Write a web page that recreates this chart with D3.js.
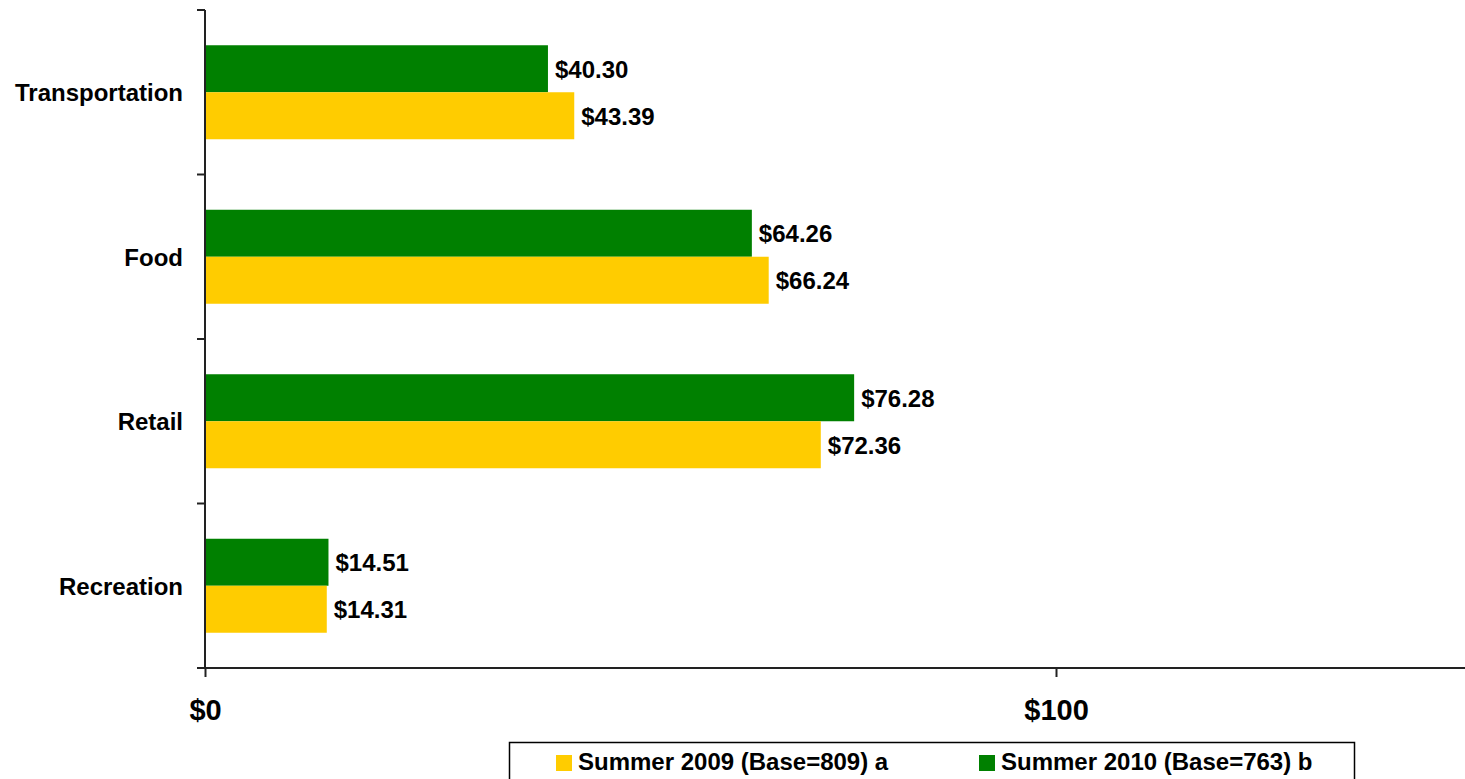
<!DOCTYPE html>
<html>
<head>
<meta charset="utf-8">
<script src="https://cdn.jsdelivr.net/npm/d3@7"></script>
<style>
  body { margin: 0; background: #fff; }
  text { font-family: Arial, "Liberation Sans", sans-serif; font-weight: bold; fill: #000; }
</style>
</head>
<body>
<svg width="1465" height="779"></svg>
<script>
const categories = ["Transportation", "Food", "Retail", "Recreation"];
const seriesNames = ["Summer 2010 (Base=763) b", "Summer 2009 (Base=809) a"];
const values2010 = [40.30, 64.26, 76.28, 14.51];
const values2009 = [43.39, 66.24, 72.36, 14.31];
const xTicks = [0, 100];
const colors = ["#008000", "#ffcc00"];

const svg = d3.select("svg");
const width = +svg.attr("width");
const height = +svg.attr("height");

const plotLeft = 205, plotTop = 10, plotBottom = 668;

const x = d3.scaleLinear().domain([0, 150]).range([plotLeft, plotLeft + 851 * 1.5]);
const y = d3.scaleBand().domain(categories).range([plotTop, plotBottom]).padding(0);
const ySub = d3.scaleBand().domain(seriesNames).range([0, y.bandwidth()]).paddingInner(0).paddingOuter(0.75);

const rows = categories.map((c, i) => ({
  category: c,
  bars: [
    { series: seriesNames[0], value: values2010[i], color: colors[0] },
    { series: seriesNames[1], value: values2009[i], color: colors[1] },
  ],
}));

// bars
const groups = svg.append("g")
  .selectAll("g")
  .data(rows)
  .join("g")
  .attr("transform", (d) => `translate(0,${y(d.category)})`);

groups.selectAll("rect")
  .data((d) => d.bars)
  .join("rect")
  .attr("x", x(0))
  .attr("y", (d) => ySub(d.series))
  .attr("width", (d) => x(d.value) - x(0))
  .attr("height", ySub.bandwidth())
  .attr("fill", (d) => d.color);

groups.selectAll("text")
  .data((d) => d.bars)
  .join("text")
  .attr("x", (d) => x(d.value) + 7)
  .attr("y", (d) => ySub(d.series) + ySub.bandwidth() / 2)
  .attr("dy", "0.38em")
  .style("font-size", "24px")
  .text((d) => "$" + d3.format(".2f")(d.value));

// x axis
const xAxis = svg.append("g")
  .attr("transform", `translate(0,${plotBottom})`)
  .call(d3.axisBottom(x).tickValues(xTicks).tickSize(9).tickSizeOuter(0).tickFormat((d) => "$" + d));
xAxis.select(".domain").attr("stroke", "#222").attr("stroke-width", 2)
  .attr("d", `M${plotLeft - 8},0H${width + 20}`);
xAxis.selectAll(".tick line").attr("stroke", "#222").attr("stroke-width", 2);
xAxis.selectAll(".tick text")
  .attr("y", 52).attr("dy", null)
  .style("font-size", "29px").style("font-family", "Arial, 'Liberation Sans', sans-serif")
  .style("font-weight", "bold").attr("fill", "#000");

// y axis line and boundary ticks
const yAxis = svg.append("g");
yAxis.append("line")
  .attr("x1", plotLeft).attr("x2", plotLeft)
  .attr("y1", plotTop).attr("y2", plotBottom)
  .attr("stroke", "#222").attr("stroke-width", 2);
const bounds = categories.map((c) => y(c)).concat([plotBottom]);
yAxis.selectAll("line.tick")
  .data(bounds)
  .join("line")
  .attr("class", "tick")
  .attr("x1", plotLeft - 8).attr("x2", plotLeft)
  .attr("y1", (d) => d).attr("y2", (d) => d)
  .attr("stroke", "#222").attr("stroke-width", 2);
yAxis.selectAll("text")
  .data(categories)
  .join("text")
  .attr("x", 183)
  .attr("y", (d) => y(d) + y.bandwidth() / 2)
  .attr("dy", "0.38em")
  .attr("text-anchor", "end")
  .style("font-size", "24px")
  .text((d) => d);

// legend
const legend = svg.append("g");
legend.append("rect")
  .attr("x", 509.5).attr("y", 742.5)
  .attr("width", 845).attr("height", 50)
  .attr("fill", "#fff").attr("stroke", "#000").attr("stroke-width", 1.5);
const legendItems = [
  { name: seriesNames[1], color: colors[1], x: 556 },
  { name: seriesNames[0], color: colors[0], x: 979 },
];
const li = legend.selectAll("g.item")
  .data(legendItems)
  .join("g")
  .attr("class", "item")
  .attr("transform", (d) => `translate(${d.x},755)`);
li.append("rect").attr("width", 16).attr("height", 16).attr("fill", (d) => d.color);
li.append("text").attr("x", 22).attr("y", 15).style("font-size", "24px").text((d) => d.name);
</script>
</body>
</html>
